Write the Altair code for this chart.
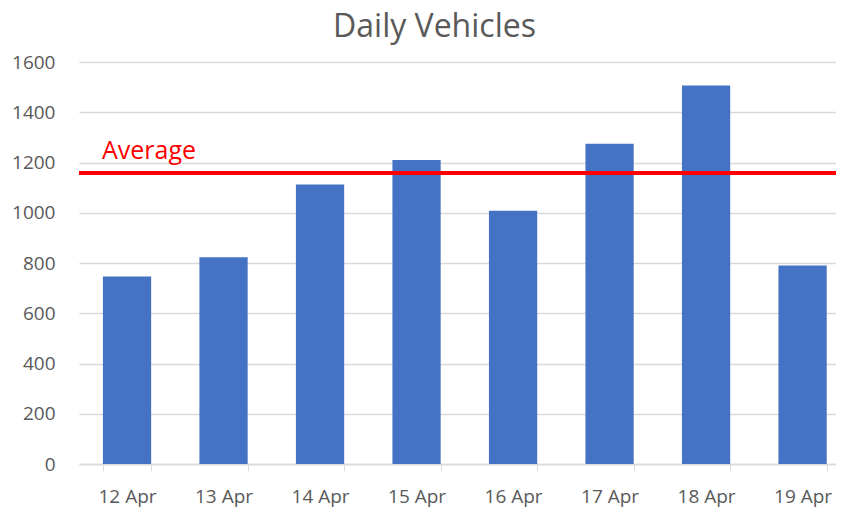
import altair as alt
import pandas as pd

days = ["12 Apr", "13 Apr", "14 Apr", "15 Apr", "16 Apr", "17 Apr", "18 Apr", "19 Apr"]
vehicles = [746, 823, 1112, 1210, 1008, 1275, 1506, 790]
average_value = [1158]
average_label = ["Average"]

df = pd.DataFrame({"day": days, "vehicles": vehicles})
avg_df = pd.DataFrame({"avg": average_value, "label": average_label})

FONT = "Open Sans"
GRAY = "#595959"

bars = alt.Chart(df).mark_bar(color="#4472c4").encode(
    x=alt.X("day:N", sort=days, title=None,
            scale=alt.Scale(paddingInner=0.5, paddingOuter=0.172, align=0.72),
            axis=alt.Axis(labelAngle=0, tickBand="extent", ticks=True, tickSize=7,
                          tickColor="#d9d9d9", domainColor="#d9d9d9", domainWidth=1.3,
                          labelFont=FONT, labelFontSize=19, labelColor=GRAY,
                          labelBaseline="alphabetic", labelPadding=31, grid=False)),
    y=alt.Y("vehicles:Q", title=None,
            scale=alt.Scale(domain=[0, 1600]),
            axis=alt.Axis(values=list(range(0, 1601, 200)), format="d", ticks=False, tickSize=0,
                          domain=False, gridColor="#d9d9d9", gridWidth=1.3,
                          labelFont=FONT, labelFontSize=19, labelColor=GRAY,
                          labelPadding=24)),
)

rule = alt.Chart(avg_df).mark_rule(color="#ff0000", strokeWidth=4).encode(
    y=alt.Y("avg:Q")
)

label = alt.Chart(avg_df).mark_text(
    color="#ff0000", font=FONT, fontSize=25, align="left", baseline="alphabetic", dy=-14
).encode(
    y=alt.Y("avg:Q"),
    x=alt.value(23),
    text="label:N",
)

chart = alt.layer(bars, rule, label).properties(
    width=757,
    height=402,
    padding={"left": 71, "top": 54, "right": 0, "bottom": 44},
    autosize=alt.AutoSizeParams(type="none"),
    title=alt.TitleParams("Daily Vehicles", font=FONT, fontSize=32, fontWeight="normal",
                          color=GRAY, anchor="middle", offset=9.5, dx=-23),
).configure_view(stroke=None)

chart.save("out.html", embed_options={"renderer": "svg", "actions": False})
